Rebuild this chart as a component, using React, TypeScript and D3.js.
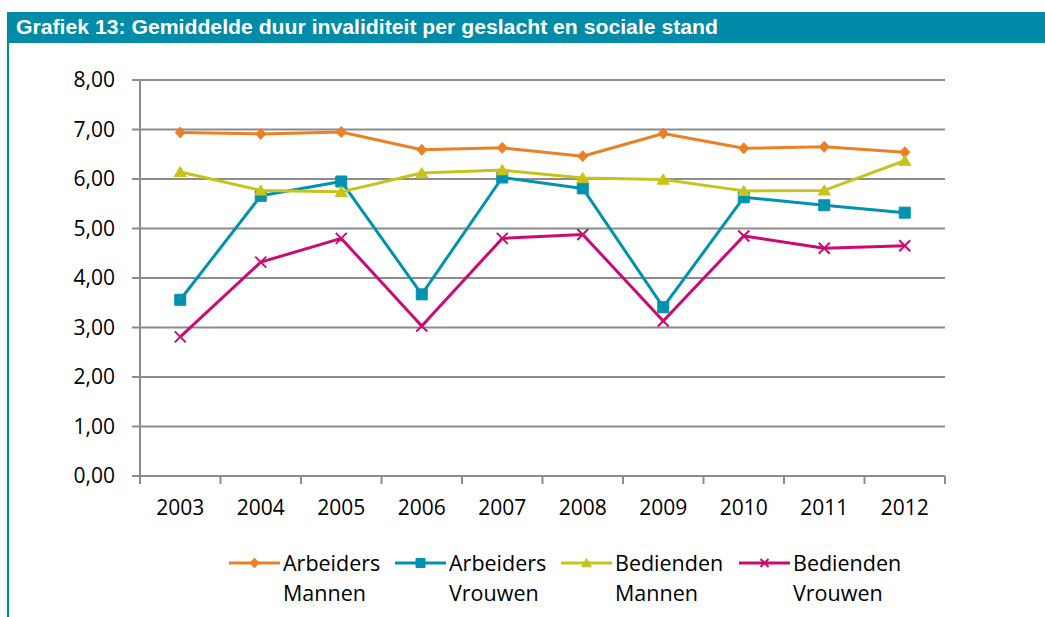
import React from 'react';
import * as d3 from 'd3';

const years = ['2003', '2004', '2005', '2006', '2007', '2008', '2009', '2010', '2011', '2012'];
const arbeidersMannen = [6.94, 6.91, 6.95, 6.59, 6.63, 6.46, 6.92, 6.62, 6.65, 6.54];
const arbeidersVrouwen = [3.56, 5.66, 5.95, 3.67, 6.03, 5.81, 3.41, 5.63, 5.47, 5.32];
const bediendenMannen = [6.14, 5.77, 5.74, 6.12, 6.18, 6.02, 5.99, 5.76, 5.77, 6.37];
const bediendenVrouwen = [2.81, 4.32, 4.80, 3.03, 4.80, 4.88, 3.13, 4.85, 4.60, 4.65];
const yTicks = [0, 1, 2, 3, 4, 5, 6, 7, 8];

const series = [
  { line1: 'Arbeiders', line2: 'Mannen', values: arbeidersMannen, color: '#EC8024', marker: 'diamond' },
  { line1: 'Arbeiders', line2: 'Vrouwen', values: arbeidersVrouwen, color: '#0092AE', marker: 'square' },
  { line1: 'Bedienden', line2: 'Mannen', values: bediendenMannen, color: '#C6C41A', marker: 'triangle' },
  { line1: 'Bedienden', line2: 'Vrouwen', values: bediendenVrouwen, color: '#CC0A72', marker: 'cross' },
];

const W = 1045;
const H = 617;
const font = '"Open Sans", sans-serif';
const gridColor = '#8C8C8C';

// marker path centred on 0,0
const markerPath = (type: string, s: number) => {
  const h = s / 2;
  if (type === 'diamond') return `M0,${-h * 1.1}L${h},0L0,${h * 1.1}L${-h},0Z`;
  if (type === 'square') return `M${-h},${-h}H${h}V${h}H${-h}Z`;
  if (type === 'triangle') return `M0,${-h}L${h * 1.1},${h * 0.85}L${-h * 1.1},${h * 0.85}Z`;
  return `M${-h},${-h}L${h},${h}M${h},${-h}L${-h},${h}`;
};

const Marker = ({ type, color, x, y, size }: any) => (
  <path
    d={markerPath(type, size)}
    transform={`translate(${x},${y})`}
    fill={type === 'cross' ? 'none' : color}
    stroke={color}
    strokeWidth={type === 'cross' ? 2 : 1}
  />
);

const App = () => {
  const x = d3.scaleBand<string>().domain(years).range([140, 945]);
  const y = d3.scaleLinear().domain([0, 8]).range([476, 80]);
  const cx = (yr: string) => (x(yr) as number) + x.bandwidth() / 2;
  const line = d3
    .line<number>()
    .x((_, i) => cx(years[i]))
    .y((d) => y(d));
  const fmt = (v: number) => v.toFixed(2).replace('.', ',');

  // legend layout
  const legendX = [229, 395, 561, 739];
  const legendY = 563;

  return (
    <svg width={W} height={H} style={{ position: 'absolute', left: 0, top: 0, background: '#fff' }}>
      {/* header */}
      <rect x={7} y={12} width={W - 7} height={31} fill="#008BA8" />
      <text
        x={16}
        y={34}
        fill="#fff"
        fontFamily='"Liberation Sans", Arial, sans-serif'
        fontWeight="bold"
        fontSize={20}
        textLength={702}
        lengthAdjust="spacingAndGlyphs"
      >
        Grafiek 13: Gemiddelde duur invaliditeit per geslacht en sociale stand
      </text>
      <line x1={8} x2={8} y1={43} y2={H} stroke="#008BA8" strokeWidth={2} />

      {/* grid and y axis */}
      {yTicks.map((t) => (
        <g key={t}>
          <line x1={132} x2={945} y1={y(t)} y2={y(t)} stroke={gridColor} strokeWidth={2} />
          <text x={115} y={y(t)} dy="0.35em" textAnchor="end" fontFamily={font} fontSize={21} fill="#000">
            {fmt(t)}
          </text>
        </g>
      ))}
      <line x1={140} x2={140} y1={80} y2={484} stroke={gridColor} strokeWidth={2} />

      {/* x axis ticks and labels */}
      {[...years.map((yr) => x(yr) as number), 945].map((px, i) => (
        <line key={i} x1={px} x2={px} y1={476} y2={484} stroke={gridColor} strokeWidth={2} />
      ))}
      {years.map((yr) => (
        <text key={yr} x={cx(yr)} y={508} dy="0.35em" textAnchor="middle" fontFamily={font} fontSize={21} fill="#000">
          {yr}
        </text>
      ))}

      {/* series */}
      {series.map((s) => (
        <g key={s.line1 + s.line2}>
          <path d={line(s.values) as string} fill="none" stroke={s.color} strokeWidth={3} strokeLinejoin="round" />
          {s.values.map((v, i) => (
            <Marker key={i} type={s.marker} color={s.color} x={cx(years[i])} y={y(v)} size={s.marker === 'diamond' ? 10 : 11} />
          ))}
        </g>
      ))}

      {/* legend */}
      {series.map((s, i) => (
        <g key={'lg' + i} transform={`translate(${legendX[i]},${legendY})`}>
          <line x1={0} x2={51} y1={0} y2={0} stroke={s.color} strokeWidth={3} />
          <Marker type={s.marker} color={s.color} x={25.5} y={0} size={s.marker === 'cross' ? 8 : 9} />
          <text x={54} y={0} dy="0.35em" fontFamily={font} fontSize={21.5} fill="#000">
            {s.line1}
          </text>
          <text x={54} y={30} dy="0.35em" fontFamily={font} fontSize={21.5} fill="#000">
            {s.line2}
          </text>
        </g>
      ))}
    </svg>
  );
};

export default App;
